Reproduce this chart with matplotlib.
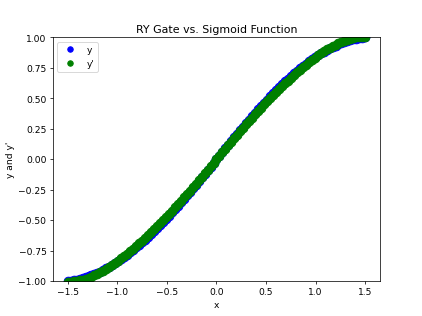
#!/usr/bin/env python3
"""
RY gate vs. sigmoid function

Plots the RY gate output (y) against the fitted sigmoid (y') over x in [-1.5, 1.5]
and saves the figure to out.png.
"""

import matplotlib
matplotlib.use("Agg")
import matplotlib.pyplot as plt

# Sample points (x)
x_vals = [
    -1.50, -1.47, -1.44, -1.41, -1.38, -1.35, -1.32, -1.29, -1.26, -1.23,
    -1.20, -1.17, -1.14, -1.11, -1.08, -1.05, -1.02, -0.99, -0.96, -0.93,
    -0.90, -0.87, -0.84, -0.81, -0.78, -0.75, -0.72, -0.69, -0.66, -0.63,
    -0.60, -0.57, -0.54, -0.51, -0.48, -0.45, -0.42, -0.39, -0.36, -0.33,
    -0.30, -0.27, -0.24, -0.21, -0.18, -0.15, -0.12, -0.09, -0.06, -0.03,
    0.00,
    0.03, 0.06, 0.09, 0.12, 0.15, 0.18, 0.21, 0.24, 0.27, 0.30,
    0.33, 0.36, 0.39, 0.42, 0.45, 0.48, 0.51, 0.54, 0.57, 0.60,
    0.63, 0.66, 0.69, 0.72, 0.75, 0.78, 0.81, 0.84, 0.87, 0.90,
    0.93, 0.96, 0.99, 1.02, 1.05, 1.08, 1.11, 1.14, 1.17, 1.20,
    1.23, 1.26, 1.29, 1.32, 1.35, 1.38, 1.41, 1.44, 1.47, 1.50,
]

# RY gate output (blue)
y_gate = [
    -0.998, -0.995, -0.991, -0.987, -0.982, -0.976, -0.969, -0.961, -0.952, -0.943,
    -0.932, -0.921, -0.909, -0.896, -0.882, -0.867, -0.852, -0.836, -0.819, -0.802,
    -0.783, -0.764, -0.745, -0.724, -0.703, -0.682, -0.659, -0.637, -0.613, -0.589,
    -0.565, -0.540, -0.514, -0.488, -0.462, -0.435, -0.408, -0.380, -0.352, -0.324,
    -0.296, -0.267, -0.238, -0.209, -0.179, -0.149, -0.120, -0.090, -0.060, -0.030,
    0.000,
    0.030, 0.060, 0.090, 0.120, 0.149, 0.179, 0.209, 0.238, 0.267, 0.296,
    0.324, 0.352, 0.380, 0.408, 0.435, 0.462, 0.488, 0.514, 0.540, 0.565,
    0.589, 0.613, 0.637, 0.659, 0.682, 0.703, 0.724, 0.745, 0.764, 0.783,
    0.802, 0.819, 0.836, 0.852, 0.867, 0.882, 0.896, 0.909, 0.921, 0.932,
    0.943, 0.952, 0.961, 0.969, 0.976, 0.982, 0.987, 0.991, 0.995, 0.998,
]

# Sigmoid approximation (green)
y_sigmoid = [
    -1.004, -1.003, -1.001, -0.998, -0.994, -0.988, -0.981, -0.972, -0.962, -0.952,
    -0.940, -0.928, -0.914, -0.900, -0.884, -0.867, -0.851, -0.833, -0.814, -0.795,
    -0.775, -0.754, -0.734, -0.712, -0.690, -0.668, -0.645, -0.622, -0.598, -0.574,
    -0.550, -0.525, -0.500, -0.474, -0.449, -0.422, -0.396, -0.368, -0.341, -0.313,
    -0.286, -0.258, -0.230, -0.202, -0.173, -0.144, -0.116, -0.087, -0.058, -0.029,
    0.000,
    0.029, 0.058, 0.087, 0.116, 0.144, 0.173, 0.202, 0.230, 0.258, 0.286,
    0.313, 0.341, 0.368, 0.396, 0.422, 0.449, 0.474, 0.500, 0.525, 0.550,
    0.574, 0.598, 0.622, 0.645, 0.668, 0.690, 0.712, 0.734, 0.754, 0.775,
    0.795, 0.814, 0.833, 0.851, 0.867, 0.884, 0.900, 0.914, 0.928, 0.940,
    0.952, 0.962, 0.972, 0.981, 0.988, 0.994, 0.998, 1.001, 1.003, 1.004,
]


def main():
    """Draw both series and save the figure."""
    fig, ax = plt.subplots(figsize=(6.4, 4.8), dpi=66)

    # Big markers so the dense points merge into a thick band
    ax.plot(x_vals, y_gate, "o", color="blue", markersize=9.5, label="y")
    ax.plot(x_vals, y_sigmoid, "o", color="green", markersize=9.5, label="y'")

    ax.set_ylim(-1, 1)
    ax.set_title("RY Gate vs. Sigmoid Function")
    ax.set_xlabel("x")
    ax.set_ylabel("y and y'")
    ax.legend(loc="upper left", markerscale=6 / 9.5)

    fig.savefig("out.png", dpi=66)


if __name__ == "__main__":
    main()
